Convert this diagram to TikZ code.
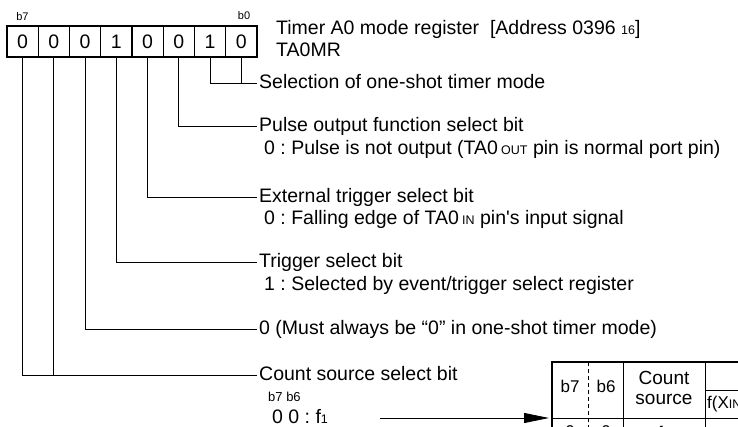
\documentclass[tikz,border=0pt]{standalone}
\usepackage{fontspec}
\setmainfont{Liberation Sans}
\usetikzlibrary{arrows.meta,positioning,calc}

\newcommand{\lowtxt}[1]{{\fontsize{12.5}{12.5}\selectfont #1}}
\frenchspacing

\begin{document}
\begin{tikzpicture}[x=1pt,y=-1pt,
    every node/.style={font=\fontsize{19.5}{22}\selectfont},
    bitcell/.style={rectangle,draw,line width=1.4pt,minimum width=31.25pt,minimum height=31pt,inner sep=0pt},
    bitlabel/.style={font=\fontsize{11}{11}\selectfont},
    desc/.style={anchor=west,inner sep=2pt,text height=14pt,text depth=3.7pt},
    lead/.style={line width=0.9pt},
    tabtxt/.style={font=\fontsize{17}{19}\selectfont}]
    \useasboundingbox (0,0) rectangle (738,427);
    \clip (0,0) rectangle (738,427);

    % register bits, b7 on the left
    \foreach \v [count=\i from 0] in {0,0,0,1,0,0,1,0} {
        \pgfmathtruncatemacro{\bit}{7-\i}
        \node[bitcell] (b\bit) at (22.6+31.25*\i, 41.5) {\v};
    }
    \node[bitlabel] (lb7) at (22.5,17) {b7};
    \node[bitlabel] (lb0) at (244,16) {b0};

    \node[anchor=base west,inner sep=0pt] (title) at (276,35) {Timer A0 mode register\ \ [Address 0396 \lowtxt{16}]};
    \node[anchor=base west,inner sep=0pt] (regname) at (276,57) {TA0MR};

    % bit descriptions
    \node[desc] (sel) at (257,83) {Selection of one-shot timer mode};
    \node[desc] (pulse) at (257,126) {Pulse output function select bit};
    \node[desc] (pulsev) at (262,149) {0 : Pulse is not output (TA0\,\lowtxt{OUT} pin is normal port pin)};
    \node[desc] (ext) at (257,197) {External trigger select bit};
    \node[desc] (extv) at (262,219) {0 : Falling edge of TA0\,\lowtxt{IN} pin\textquotesingle s input signal};
    \node[desc] (trig) at (257,262) {Trigger select bit};
    \node[desc] (trigv) at (262,285) {1 : Selected by event/trigger select register};
    \node[desc] (must) at (257,329) {0 (Must always be “0” in one-shot timer mode)};
    \node[desc] (csel) at (257,375) {Count source select bit};
    \node[desc,font=\fontsize{13}{13}\selectfont] (cbits) at (266,396) {b7 b6};
    \node[desc] (csv) at (270,418) {0 0 : f\lowtxt{1}};

    \draw[lead] (b1.south) |- (sel.west);
    \draw[lead] (b0.south) -- (b0.south |- sel.west);
    \draw[lead] (b2.south) |- (pulse.west);
    \draw[lead] (b3.south) |- (ext.west);
    \draw[lead] (b4.south) |- (trig.west);
    \draw[lead] (b5.south) |- (must.west);
    \draw[lead] (b7.south) |- (csel.west);
    \draw[lead] (b6.south) -- (b6.south |- csel.west);

    % count source table (cut off by the page edge)
    \coordinate (tblin) at (552,418);
    \draw[line width=0.9pt,-{Triangle[length=25pt,width=10pt]}] (380,418) -- ([xshift=-3pt]tblin);
    \draw[line width=1.4pt] (552,440) -- (552,362) -- (745,362);
    \draw[line width=0.9pt] (tblin) -- (745,418);
    \draw[line width=0.9pt,dash pattern=on 4pt off 3pt] (588,362) -- (588,440);
    \draw[line width=0.9pt] (623,362) -- (623,440) (705,362) -- (705,440) (705,390) -- (745,390);
    \node[tabtxt] (hb7) at (570,386) {b7};
    \node[tabtxt] (hb6) at (606,386) {b6};
    \node[align=center,font=\fontsize{19}{20}\selectfont] (hsrc) at (664,388) {Count\\source};
    \node[tabtxt,anchor=west,inner sep=2pt] (hfreq) at (705,404) {f(X\lowtxt{IN})};
    \node[tabtxt] (r1b7) at (570,432) {0};
    \node[tabtxt] (r1b6) at (606,432) {0};
    \node[tabtxt] (r1src) at (664,432) {f\lowtxt{1}};
\end{tikzpicture}
\end{document}
